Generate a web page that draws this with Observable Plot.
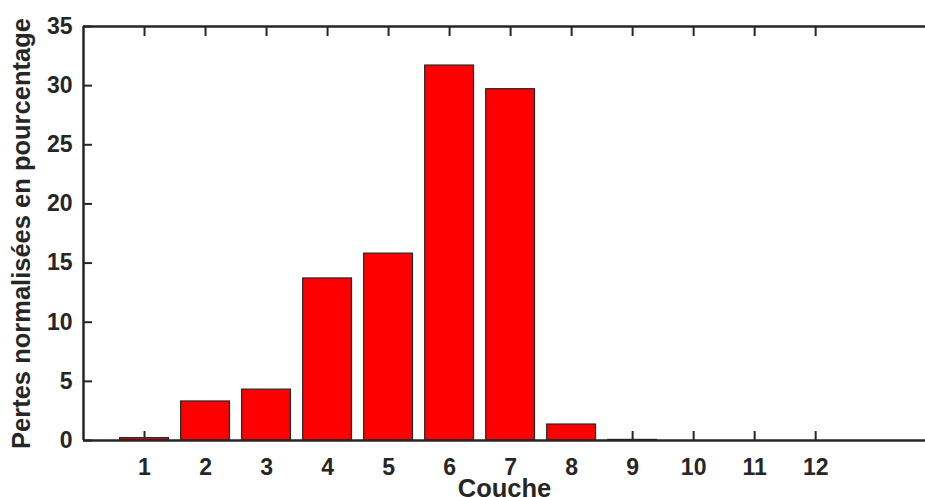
<!DOCTYPE html>
<html>
<head>
<meta charset="utf-8">
<script src="https://cdn.jsdelivr.net/npm/d3@7"></script>
<script src="https://cdn.jsdelivr.net/npm/@observablehq/plot@0.6"></script>
<style>
  html, body { margin: 0; padding: 0; background: #fff; overflow: hidden; }
  #chart svg { display: block; overflow: visible; }
</style>
</head>
<body>
<div id="chart"></div>
<script>
const couches = [1, 2, 3, 4, 5, 6, 7, 8, 9, 10, 11, 12];
const pertes = [0.2, 3.3, 4.3, 13.7, 15.8, 31.7, 29.7, 1.35, 0.05, 0, 0, 0];
const xTicks = [1, 2, 3, 4, 5, 6, 7, 8, 9, 10, 11, 12];
const yTicks = [0, 5, 10, 15, 20, 25, 30, 35];
const xLabel = "Couche";
const yLabel = "Pertes normalisées en pourcentage";
const barWidth = 0.8;

const data = couches.map((c, i) => ({couche: c, perte: pertes[i]}));
const ink = "#262626";
const font = "Liberation Sans, Arial, sans-serif";

const chart = Plot.plot({
  width: 925,
  height: 497,
  marginLeft: 83,
  marginRight: 0,
  marginTop: 26,
  marginBottom: 57,
  style: {fontFamily: font, fontWeight: "bold", color: ink, background: "#fff"},
  x: {domain: [0, 13.8]},
  y: {domain: [0, 35]},
  marks: [
    Plot.axisX(xTicks, {anchor: "bottom", tickSize: -9, strokeWidth: 2, text: null, label: null, stroke: ink}),
    Plot.axisX(xTicks, {anchor: "top", tickSize: -9, strokeWidth: 2, text: null, label: null, stroke: ink}),
    Plot.axisY(yTicks, {anchor: "left", tickSize: -9, strokeWidth: 2, text: null, label: null, stroke: ink}),
    Plot.rectY(data.filter(d => d.perte > 0), {
      x1: d => d.couche - barWidth / 2,
      x2: d => d.couche + barWidth / 2,
      y1: 0,
      y2: "perte",
      fill: "#ff0000",
      stroke: ink,
      strokeWidth: 1.2
    }),
    Plot.ruleY([0], {stroke: ink, strokeWidth: 2.5}),
    Plot.ruleY([35], {stroke: ink, strokeWidth: 2.5}),
    Plot.ruleX([0], {stroke: ink, strokeWidth: 2.5}),
    Plot.axisX(xTicks, {
      anchor: "bottom", tickSize: 0, tickPadding: 18,
      fontSize: 23, fontWeight: "bold", fill: ink, label: null
    }),
    Plot.axisY(yTicks, {
      anchor: "left", tickSize: 0, tickPadding: 11,
      fontSize: 23, fontWeight: "bold", fill: ink, label: null
    }),
    Plot.axisX(xTicks, {
      anchor: "bottom", tickSize: 0, text: null,
      fontSize: 25.5, fontWeight: "bold", fill: ink,
      label: xLabel, labelAnchor: "center", labelArrow: "none", labelOffset: 56
    }),
    Plot.axisY(yTicks, {
      anchor: "left", tickSize: 0, text: null,
      fontSize: 25.5, fontWeight: "bold", fill: ink,
      label: yLabel, labelAnchor: "center", labelArrow: "none", labelOffset: 72
    })
  ]
});
document.getElementById("chart").appendChild(chart);
</script>
</body>
</html>
